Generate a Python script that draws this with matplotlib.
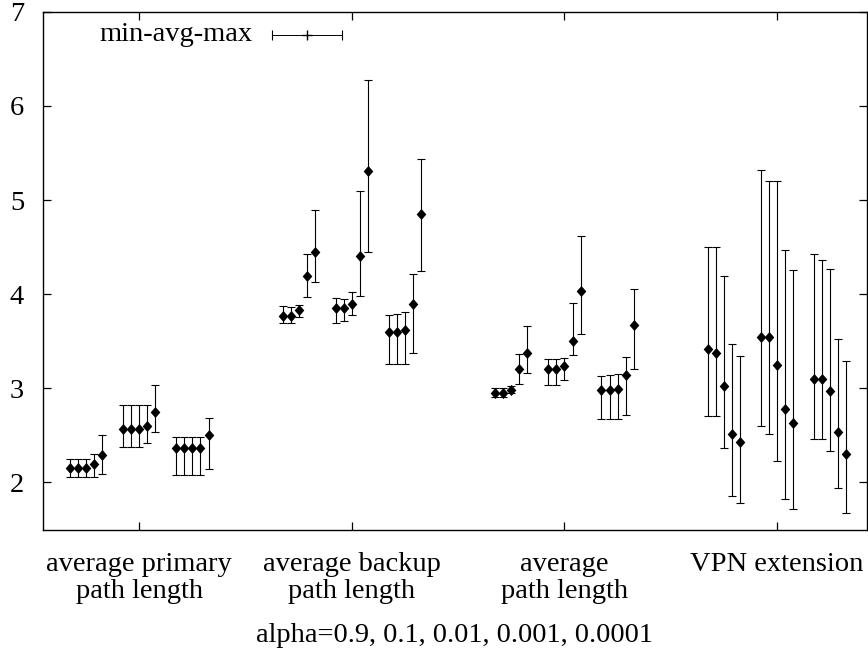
import numpy as np
import matplotlib
matplotlib.use("Agg")
import matplotlib.pyplot as plt

plt.rcParams['font.family'] = ['Liberation Serif', 'DejaVu Serif']

#Category names on the x axis.
categories = ["average primary\npath length", "average backup\npath length",
              "average\npath length", "VPN extension"]
alphas = [0.9, 0.1, 0.01, 0.001, 0.0001]

#avg / min / max, three runs per category, one value per alpha.
primary_avg = [[2.15, 2.15, 2.15, 2.20, 2.29],
               [2.57, 2.57, 2.57, 2.60, 2.75],
               [2.37, 2.37, 2.37, 2.37, 2.50]]
primary_min = [[2.06, 2.06, 2.06, 2.06, 2.09],
               [2.38, 2.38, 2.38, 2.42, 2.54],
               [2.08, 2.08, 2.08, 2.08, 2.14]]
primary_max = [[2.25, 2.25, 2.25, 2.30, 2.50],
               [2.82, 2.82, 2.82, 2.82, 3.04],
               [2.48, 2.48, 2.48, 2.48, 2.68]]

backup_avg = [[3.77, 3.77, 3.83, 4.19, 4.45],
              [3.85, 3.85, 3.90, 4.41, 5.31],
              [3.60, 3.60, 3.62, 3.90, 4.85]]
backup_min = [[3.69, 3.69, 3.76, 3.97, 4.13],
              [3.69, 3.71, 3.78, 3.98, 4.45],
              [3.26, 3.26, 3.26, 3.37, 4.25]]
backup_max = [[3.87, 3.86, 3.89, 4.43, 4.89],
              [3.96, 3.95, 4.02, 5.10, 6.28],
              [3.78, 3.79, 3.81, 4.21, 5.44]]

avgpath_avg = [[2.95, 2.95, 2.98, 3.20, 3.37],
               [3.21, 3.21, 3.24, 3.50, 4.03],
               [2.98, 2.98, 2.99, 3.14, 3.67]]
avgpath_min = [[2.91, 2.91, 2.95, 3.05, 3.16],
               [3.04, 3.04, 3.09, 3.35, 3.58],
               [2.67, 2.67, 2.67, 2.72, 3.21]]
avgpath_max = [[3.00, 3.00, 3.02, 3.36, 3.66],
               [3.31, 3.31, 3.32, 3.91, 4.62],
               [3.13, 3.14, 3.15, 3.33, 4.06]]

vpn_avg = [[3.42, 3.38, 3.02, 2.51, 2.43],
           [3.55, 3.54, 3.25, 2.78, 2.63],
           [3.10, 3.10, 2.97, 2.54, 2.30]]
vpn_min = [[2.71, 2.71, 2.37, 1.86, 1.78],
           [2.60, 2.51, 2.23, 1.82, 1.72],
           [2.46, 2.46, 2.33, 1.94, 1.67]]
vpn_max = [[4.50, 4.50, 4.19, 3.47, 3.34],
           [5.32, 5.20, 5.20, 4.47, 4.26],
           [4.43, 4.36, 4.27, 3.52, 3.29]]

avgs = [primary_avg, backup_avg, avgpath_avg, vpn_avg]
mins = [primary_min, backup_min, avgpath_min, vpn_min]
maxs = [primary_max, backup_max, avgpath_max, vpn_max]

#Create figure.
fig = plt.figure(figsize=(8.68, 6.55), dpi=100)
ax = fig.add_axes([0.0495, 0.1916, 0.9488, 0.7905])

diamond = [(0, 1.15), (1, 0), (0, -1.15), (-1, 0), (0, 1.15)]
run_off = [-0.25, 0.0, 0.25]
alpha_off = np.array([-2, -1, 0, 1, 2]) * 0.038

for c in range(len(categories)):
     for r in range(3):
          x = c + 1 + run_off[r] + alpha_off
          y = np.array(avgs[c][r])
          lo = y - np.array(mins[c][r])
          hi = np.array(maxs[c][r]) - y
          ax.errorbar(x, y, yerr=[lo, hi], fmt="none", ecolor="black",
                      elinewidth=0.8, capsize=3.1, capthick=0.8)
          ax.plot(x, y, linestyle="none", marker=diamond, markersize=8,
                  color="black", markeredgewidth=0)

#Key in the top left corner, drawn like gnuplot does.
ax.text(0.255, 0.9556, "min-avg-max", transform=ax.transAxes,
        ha="right", va="center", fontsize=20.5)
ax.plot([0.278, 0.363], [0.9556, 0.9556], transform=ax.transAxes,
        color="black", lw=0.7)
ax.plot([0.278, 0.363], [0.9556, 0.9556], transform=ax.transAxes,
        linestyle="none", marker="|", markersize=6.5, color="black", mew=0.8)
ax.plot([0.3205], [0.9556], transform=ax.transAxes,
        linestyle="none", marker="+", markersize=7, color="black", mew=1.0)

ax.set_xlim(0.547, 4.421)
ax.set_ylim(1.5, 7)
ax.set_xticks(range(1, len(categories) + 1))
ax.set_xticklabels(categories, fontsize=20.5, linespacing=1.1)
ax.set_yticks(range(2, 8))
ax.set_yticklabels([str(v) for v in range(2, 8)], fontsize=20.5)
ax.tick_params(direction="in", length=6, width=0.9, top=True, right=True)
ax.tick_params(axis="x", pad=16)
ax.tick_params(axis="y", pad=13.5)
ax.set_xlabel("alpha=" + ", ".join(str(a) for a in alphas), fontsize=20.5,
              labelpad=14)
for s in ax.spines.values():
     s.set_linewidth(1.0)

fig.savefig("out.png", dpi=100)
